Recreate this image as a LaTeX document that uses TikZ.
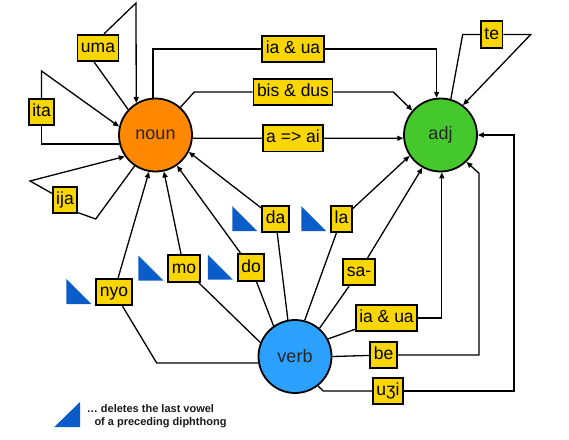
\documentclass[tikz,border=0pt]{standalone}
\usepackage{fontspec}
\setmainfont{Liberation Sans}
\usetikzlibrary{arrows.meta}

\definecolor{nounorange}{RGB}{255,136,0}
\definecolor{adjgreen}{RGB}{68,200,44}
\definecolor{verbblue}{RGB}{44,160,255}
\definecolor{affixyellow}{RGB}{250,214,0}
\definecolor{cutblue}{RGB}{10,92,200}

\begin{document}
\begin{tikzpicture}[x=1pt,y=-1pt,
  >={Triangle[length=6pt,width=5pt]},
  wordclass/.style={circle,draw,line width=1.8pt,minimum size=73pt,inner sep=0pt,text=black!85,font=\fontsize{18}{20}\selectfont},
  affix/.style={draw,line width=1.8pt,fill=affixyellow,minimum height=26.5pt,inner xsep=3.5pt,inner ysep=0pt,text height=12.5pt,text depth=3.5pt,font=\fontsize{17.5}{20}\selectfont},
  link/.style={line width=1.3pt},
  cut/.style={fill=cutblue},
  legendtext/.style={inner sep=0pt,text=black!90,font=\bfseries\fontsize{11}{13}\selectfont}]
  \useasboundingbox (0,0) rectangle (569,439);

  % word classes
  \node[wordclass,fill=nounorange] (noun) at (155.5,135) {noun};
  \node[wordclass,fill=adjgreen] (adj) at (440.5,135) {adj};
  \node[wordclass,fill=verbblue] (verb) at (295,356.5) {verb};

  % affixes
  \node[affix] (uma) at (98,48) {uma};
  \node[affix] (ita) at (41.5,112) {ita};
  \node[affix] (ija) at (65,200) {ija};
  \node[affix] (iaua) at (293,49) {ia \& ua};
  \node[affix] (bisdus) at (293,92) {bis \& dus};
  \node[affix] (aai) at (293,138.3) {a => ai};
  \node[affix] (te) at (491.7,34.5) {te};
  \node[affix] (da) at (275.5,219) {da};
  \node[affix] (mo) at (184,268.5) {mo};
  \node[affix] (do) at (251,267.5) {do};
  \node[affix] (nyo) at (114,292) {nyo};
  \node[affix] (la) at (341.5,219) {la};
  \node[affix] (sa) at (359,272) {sa-};
  \node[affix] (iauab) at (386.5,318) {ia \& ua};
  \node[affix] (be) at (383.5,355) {be};
  \node[affix] (uzi) at (388,391) {uʒi};

  % bends
  \coordinate (umatop) at (136,3);
  \coordinate (itatop) at (41.5,71);
  \coordinate (ijabend) at (95.7,219);
  \coordinate (ijatip) at (30,181);
  \coordinate (bisbend) at (194.3,92);
  \coordinate (biscorner) at (393.3,92);
  \coordinate (tebend) at (462.7,34.5);
  \coordinate (tetip) at (530.7,34.5);
  \coordinate (nyobend) at (156.7,363);
  \coordinate (becorner) at (479,173.3);
  \coordinate (uzibend) at (323.3,391);
  \coordinate (uzicorner) at (514,135);

  % noun to noun
  \draw[link] (noun.137) -- (uma.255);
  \draw[link,->] (uma.67) -- (umatop) -- (noun.121);
  \draw[link] (noun.194) -| (ita);
  \draw[link,->] (ita) -- (itatop) -- (noun.167);
  \draw[link] (noun.236) -- (ijabend) -- (ija.316);
  \draw[link,->] (ija.153) -- (ijatip) -- (noun.215);

  % noun to adj
  \draw[link] (noun.94) |- (iaua);
  \draw[link,->] (iaua) -| (adj.96);
  \draw[link] (noun.48) -- (bisbend) -- (bisdus);
  \draw[link,->] (bisdus) -- (biscorner) -- (adj.139);
  \draw[link] (noun.355) -- (aai);
  \draw[link,->] (aai) -- (adj.185);

  % adj to adj
  \draw[link] (adj.74) -- (tebend) -- (te);
  \draw[link,->] (te) -- (tetip) -- (adj.53);

  % verb to noun
  \draw[link] (verb.190) -- (nyobend) -- (nyo);
  \draw[link,->] (nyo) -- (noun.260);
  \draw[link] (verb.158) -- (mo);
  \draw[link,->] (mo) -- (noun.283);
  \draw[link] (verb.125) -- (do);
  \draw[link,->] (do) -- (noun.305);
  \draw[link] (verb.101) -- (da);
  \draw[link,->] (da) -- (noun.333);

  % verb to adj
  \draw[link] (verb.75) -- (la);
  \draw[link,->] (la) -- (adj.214);
  \draw[link] (verb.49) -- (sa);
  \draw[link,->] (sa) -- (adj.241);
  \draw[link] (verb.28) -- (iauab);
  \draw[link,->] (iauab) -| (adj.272);
  \draw[link] (verb.east) -- (be);
  \draw[link,->] (be) -| (becorner) -- (adj.314);
  \draw[link] (verb.308) -- (uzibend) -- (uzi);
  \draw[link,->] (uzi) -| (uzicorner) -- (adj.east);

  % vowel deletion marks
  \foreach \w in {da,mo,do,nyo,la}
    \fill[cut] ([xshift=-4pt,yshift=2pt]\w.south west) -- ++(-25,0) -- ++(0,-25) -- cycle;

  % legend
  \fill[cut] (54.3,427) -- ++(25.7,0) -- ++(0,-25) -- cycle;
  \node[legendtext,anchor=base west] (legendtop) at (86.7,412.7) {… deletes the last vowel};
  \node[legendtext,anchor=base west] (legendbottom) at (94.3,425.7) {of a preceding diphthong};
\end{tikzpicture}
\end{document}
